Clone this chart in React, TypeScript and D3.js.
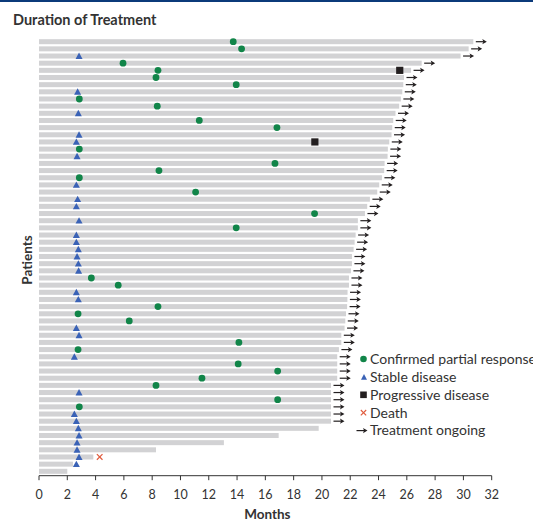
import React from "react";
import * as d3 from "d3";

// Months on treatment for each patient, longest first
const durations: number[] = [
  30.7, 30.37, 29.8, 27.05, 26.3, 25.8, 25.75, 25.68, 25.58, 25.46,
  25.2, 25.04, 24.97, 24.92, 24.76, 24.66, 24.64, 24.43, 24.4, 24.24,
  24.05, 23.91, 23.39, 23.2, 23.04, 22.54, 22.54, 22.38, 22.31, 22.24,
  22.12, 22.12, 22.05, 21.91, 21.91, 21.81, 21.8, 21.78, 21.7, 21.65,
  21.6, 21.37, 21.37, 21.2, 21.08, 21.08, 21.08, 21.08, 20.64, 20.64,
  20.64, 20.64, 20.64, 20.64, 19.77, 16.94, 13.07, 8.27, 3.84, 2.4, 2.0,
];

// Best response per patient: PR = confirmed partial response, SD = stable disease
const responseTypes: (string | null)[] = [
  "PR", "PR", "SD", "PR", "PR", "PR", "PR", "SD", "PR", "PR",
  "SD", "PR", "PR", "SD", "SD", "PR", "SD", "PR", "PR", "PR",
  "SD", "PR", "SD", "SD", "PR", "SD", "PR", "SD", "SD", "SD",
  "SD", "SD", "SD", "PR", "PR", "SD", "SD", "PR", "PR", "PR",
  "SD", "SD", "PR", "PR", "SD", "PR", "PR", "PR", "PR", "SD",
  "PR", "PR", "SD", "SD", "SD", "SD", "SD", "SD", "SD", "SD", null,
];

// Month at which the response was recorded
const responseMonths: (number | null)[] = [
  13.73, 14.32, 2.83, 5.94, 8.41, 8.27, 13.94, 2.73, 2.85, 8.36,
  2.78, 11.33, 16.82, 2.83, 2.64, 2.85, 2.69, 16.68, 8.48, 2.85,
  2.64, 11.07, 2.73, 2.64, 19.48, 2.83, 13.94, 2.64, 2.64, 2.78,
  2.69, 2.78, 2.8, 3.7, 5.6, 2.64, 2.78, 8.41, 2.76, 6.38,
  2.64, 2.83, 14.13, 2.76, 2.5, 14.08, 16.87, 11.52, 8.27, 2.83,
  16.87, 2.85, 2.5, 2.64, 2.78, 2.83, 2.69, 2.69, 2.83, 2.64, null,
];

// Number of patients (from the top) whose treatment is still ongoing
const ongoingCount = 54;

// Progressive disease events: [patient index, month]
const progressionEvents: [number, number][] = [
  [4, 25.5],
  [14, 19.5],
];

// Deaths: [patient index, month]
const deathEvents: [number, number][] = [[58, 4.29]];

const xTicks: number[] = d3.range(0, 33, 2);

const legendLabels: string[] = [
  "Confirmed partial response",
  "Stable disease",
  "Progressive disease",
  "Death",
  "Treatment ongoing",
];

const GREEN = "#118549";
const BLUE = "#3a62b6";
const BLACK = "#231f20";
const RED = "#e05a3c";
const BAR = "#d2d2d4";
const TEXT = "#333333";
const FONT = "Lato, 'Open Sans', sans-serif";

function triPath(cx: number, cy: number, w: number, h: number) {
  return `M${cx},${cy - h / 2}L${cx + w / 2},${cy + h / 2}L${cx - w / 2},${cy + h / 2}Z`;
}

function Arrow({ x, y }: { x: number; y: number }) {
  return (
    <g>
      <line x1={x} y1={y} x2={x + 8} y2={y} stroke={BLACK} strokeWidth={1.2} />
      <path d={`M${x + 11},${y}L${x + 6.5},${y - 2.6}L${x + 7.5},${y}L${x + 6.5},${y + 2.6}Z`} fill={BLACK} />
    </g>
  );
}

export default function App() {
  const width = 533;
  const height = 521;
  const x = d3.scaleLinear().domain([0, 32]).range([39, 491.7]);
  const y = d3
    .scalePoint<number>()
    .domain(d3.range(durations.length))
    .range([41.7, 471.3]);
  const barH = 5;
  const axisY = 475.7;

  const legendX = 363.5;
  const legendY0 = 359;
  const legendStep = 17.9;

  return (
    <div style={{ position: "absolute", left: 0, top: 0 }}>
      <svg width={width} height={height} style={{ display: "block", background: "#fff" }}>
        <rect x={0} y={0} width={width} height={2} fill="#0b3a7a" />
        <text x={13} y={24.5} fontFamily={FONT} fontWeight={700} fontSize={14.5} fill={TEXT}>
          Duration of Treatment
        </text>

        {/* Treatment duration bars */}
        {durations.map((d, i) => (
          <rect key={`b${i}`} x={x(0)} y={(y(i) as number) - barH / 2} width={x(d) - x(0)} height={barH} fill={BAR} />
        ))}

        {/* Ongoing treatment arrows */}
        {durations.slice(0, ongoingCount).map((d, i) => (
          <Arrow key={`a${i}`} x={x(d) + 2.5} y={y(i) as number} />
        ))}

        {/* Progressive disease */}
        {progressionEvents.map(([i, m], k) => (
          <rect key={`p${k}`} x={x(m) - 3.6} y={(y(i) as number) - 3.6} width={7.2} height={7.2} fill={BLACK} />
        ))}

        {/* Responses */}
        {responseTypes.map((t, i) => {
          const m = responseMonths[i];
          if (t === null || m === null) return null;
          const cy = y(i) as number;
          if (t === "PR") return <circle key={`r${i}`} cx={x(m)} cy={cy} r={3.4} fill={GREEN} />;
          return <path key={`r${i}`} d={triPath(x(m), cy - 0.3, 7, 6.4)} fill={BLUE} />;
        })}

        {/* Deaths */}
        {deathEvents.map(([i, m], k) => {
          const cx = x(m);
          const cy = y(i) as number;
          const s = 2.8;
          return (
            <g key={`d${k}`} stroke={RED} strokeWidth={1.2}>
              <line x1={cx - s} y1={cy - s} x2={cx + s} y2={cy + s} />
              <line x1={cx - s} y1={cy + s} x2={cx + s} y2={cy - s} />
            </g>
          );
        })}

        {/* X axis */}
        <line x1={x(0)} x2={x(32)} y1={axisY} y2={axisY} stroke={TEXT} strokeWidth={1} />
        {xTicks.map((t) => (
          <g key={`t${t}`}>
            <line x1={x(t)} x2={x(t)} y1={axisY} y2={axisY + 4.5} stroke={TEXT} strokeWidth={1} />
            <text x={x(t)} y={498.5} textAnchor="middle" fontFamily={FONT} fontSize={12.5} fill={TEXT}>
              {t}
            </text>
          </g>
        ))}
        <text x={x(16) + 2} y={518.5} textAnchor="middle" fontFamily={FONT} fontWeight={700} fontSize={13.5} fill={TEXT}>
          Months
        </text>
        <text
          transform={`translate(32,260) rotate(-90)`}
          textAnchor="middle"
          fontFamily={FONT}
          fontWeight={700}
          fontSize={13.5}
          fill={TEXT}
        >
          Patients
        </text>

        {/* Legend */}
        {legendLabels.map((label, k) => {
          const ly = legendY0 + k * legendStep;
          let mark: React.ReactNode = null;
          if (k === 0) mark = <circle cx={legendX} cy={ly} r={3.3} fill={GREEN} />;
          if (k === 1) mark = <path d={triPath(legendX + 0.5, ly, 6, 5.6)} fill={BLUE} />;
          if (k === 2) mark = <rect x={legendX - 3.3} y={ly - 3.3} width={6.6} height={6.6} fill={BLACK} />;
          if (k === 3)
            mark = (
              <g stroke={RED} strokeWidth={1.1}>
                <line x1={legendX - 2.7} y1={ly - 2.7} x2={legendX + 2.7} y2={ly + 2.7} />
                <line x1={legendX - 2.7} y1={ly + 2.7} x2={legendX + 2.7} y2={ly - 2.7} />
              </g>
            );
          if (k === 4) mark = <Arrow x={356.5} y={ly} />;
          return (
            <g key={`l${k}`}>
              {mark}
              <text x={370} y={ly + 4.8} fontFamily={FONT} fontSize={14} fill={TEXT}>
                {label}
              </text>
            </g>
          );
        })}
      </svg>
    </div>
  );
}
